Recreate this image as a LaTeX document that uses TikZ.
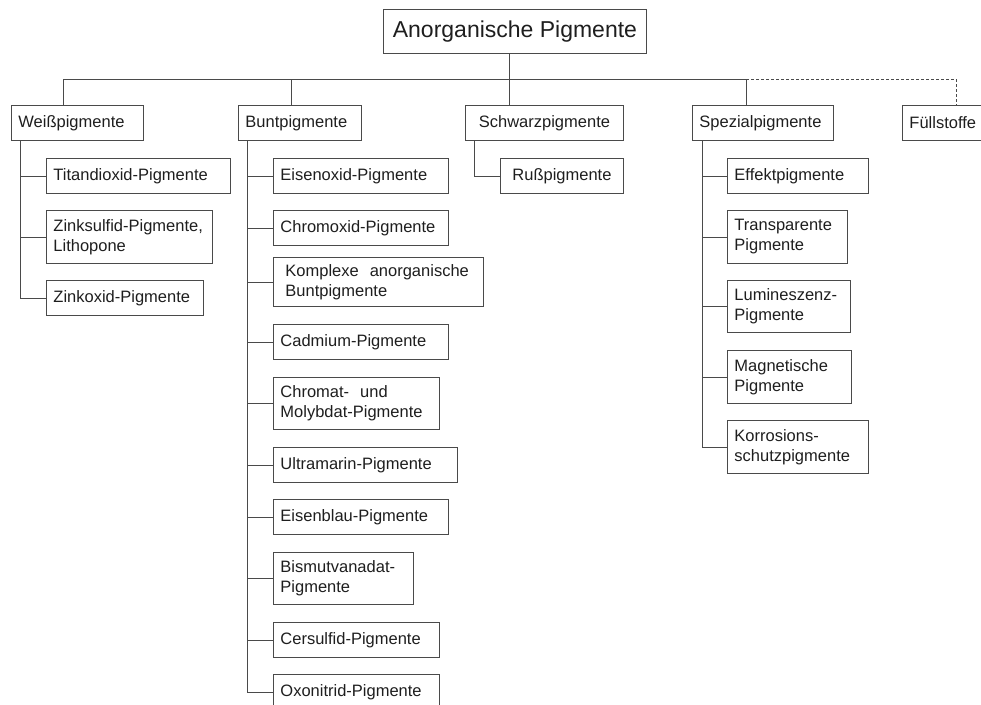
\documentclass[tikz,border=0pt]{standalone}
\usepackage{fontspec}
\setmainfont{Liberation Sans}
\usetikzlibrary{positioning}
\definecolor{ink}{HTML}{1E1E1E}
\definecolor{edge}{HTML}{4A4A4A}
\newcommand{\boxfont}{\fontsize{16.5}{20}\selectfont}
\newcommand{\titlefont}{\fontsize{23}{27}\selectfont}

\begin{document}
\begin{tikzpicture}[
    x=1pt, y=-1pt,
    every node/.style={text=ink},
    line width=0.9pt,
    box/.style={draw=edge, anchor=north west, align=left, inner xsep=7pt,
      inner ysep=0pt, font=\boxfont},
    one/.style={minimum height=35pt},
    two/.style={minimum height=53pt},
    link/.style={draw=edge},
  ]

  % Canvas
  \useasboundingbox (0,0) rectangle (981,704);

  % === Root ===
  \node[box, align=center, font=\titlefont, minimum width=263pt,
        minimum height=44pt] (top) at (383,9) {Anorganische Pigmente};

  % === Main groups ===
  \node[box, one, text width=118pt] (weiss) at (11,105) {Weißpigmente};
  \node[box, one, text width=109pt] (bunt) at (238,105) {Buntpigmente};
  \node[box, one, text width=144pt, align=center] (schwarz) at (465,105) {Schwarzpigmente};
  \node[box, one, text width=127pt] (spez) at (692,105) {Spezialpigmente};
  \node[box, one, text width=110pt] (fuell) at (902,105) {Füllstoffe};

  % === Weißpigmente ===
  \node[box, one, text width=170pt] (titan) at (46,158) {Titandioxid-Pigmente};
  \node[box, two, text width=152pt] (zinks) at (46,210) {Zinksulfid-Pigmente,\\Lithopone};
  \node[box, one, text width=143pt] (zinko) at (46,280) {Zinkoxid-Pigmente};

  % === Buntpigmente ===
  \node[box, one, text width=161pt] (eisox) at (273,158) {Eisenoxid-Pigmente};
  \node[box, one, text width=161pt] (chrox) at (273,210) {Chromoxid-Pigmente};
  \node[box, minimum height=49pt, inner xsep=12pt, text width=186pt] (kompl) at (273,257)
    {Komplexe\ \ anorganische\\Buntpigmente};
  \node[box, one, text width=161pt] (cadm) at (273,324) {Cadmium-Pigmente};
  \node[box, minimum height=52pt, text width=152pt] (chrom) at (273,377)
    {Chromat-\ \ und\\Molybdat-Pigmente};
  \node[box, one, text width=170pt] (ultra) at (273,447) {Ultramarin-Pigmente};
  \node[box, one, text width=161pt] (eisbl) at (273,499) {Eisenblau-Pigmente};
  \node[box, minimum height=52pt, text width=126pt] (bismu) at (273,552)
    {Bismutvanadat-\\Pigmente};
  \node[box, one, text width=152pt] (cersu) at (273,622) {Cersulfid-Pigmente};
  \node[box, one, text width=152pt] (oxoni) at (273,674) {Oxonitrid-Pigmente};

  % === Schwarzpigmente ===
  \node[box, one, text width=109pt, align=center] (russ) at (500,158) {Rußpigmente};

  % === Spezialpigmente ===
  \node[box, one, text width=127pt] (effekt) at (727,158) {Effektpigmente};
  \node[box, two, text width=106pt] (transp) at (727,210) {Transparente\\Pigmente};
  \node[box, minimum height=52pt, text width=109pt] (lumin) at (727,280) {Lumineszenz-\\Pigmente};
  \node[box, two, text width=110pt] (magnet) at (727,350) {Magnetische\\Pigmente};
  \node[box, two, text width=127pt] (korros) at (727,420) {Korrosions-\\schutzpigmente};

  % === Bus ===
  \coordinate (bus) at (509,79);
  \coordinate (dw) at (63,79);
  \coordinate (db) at (291,79);
  \coordinate (ds) at (746,79);
  \coordinate (df) at (956,79);

  \draw[link] (top.south -| bus) -- (schwarz.north -| bus);
  \draw[link] (weiss.north -| dw) -- (dw) -- (ds) -- (spez.north -| ds);
  \draw[link] (db) -- (bunt.north -| db);
  \draw[link, dash pattern=on 3pt off 2pt] (ds) -- (df) -- (fuell.north -| df);

  % === Branches ===
  \foreach \c in {titan,zinks,zinko}
    \draw[link] ([xshift=9pt]weiss.south west) |- (\c.west);
  \foreach \c in {eisox,chrox,kompl,cadm,chrom,ultra,eisbl,bismu,cersu,oxoni}
    \draw[link] ([xshift=9pt]bunt.south west) |- (\c.west);
  \draw[link] ([xshift=9pt]schwarz.south west) |- (russ.west);
  \foreach \c in {effekt,transp,lumin,magnet,korros}
    \draw[link] ([xshift=10pt]spez.south west) |- (\c.west);

\end{tikzpicture}
\end{document}
